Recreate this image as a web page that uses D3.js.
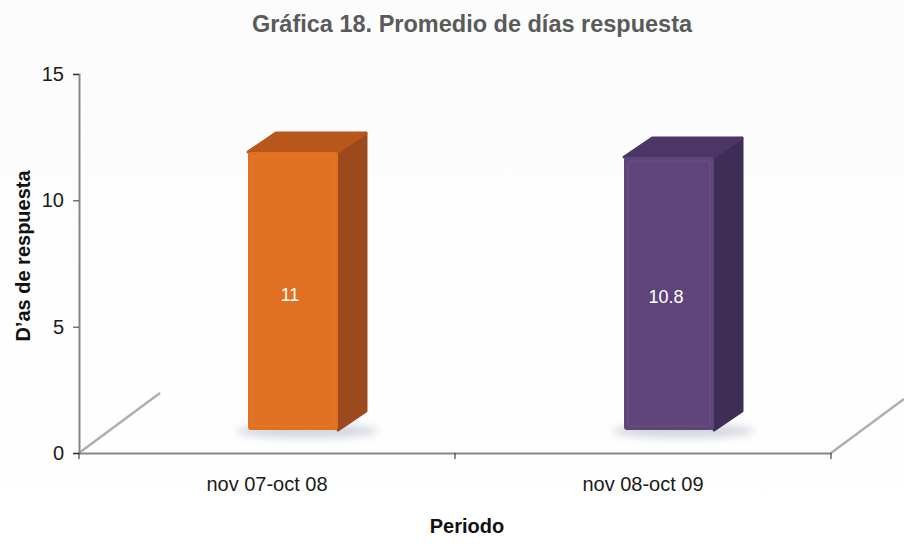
<!DOCTYPE html>
<html lang="es">
<head>
<meta charset="UTF-8">
<title>Gráfica 18</title>
<script src="https://d3js.org/d3.v7.min.js"></script>
<style>
  body, html { margin: 0; padding: 0; background: #fff; }
  text { font-family: "Liberation Sans", Arial, sans-serif; }
</style>
</head>
<body>
<div id="chart"></div>
<script>
// data
const periods = ["nov 07-oct 08", "nov 08-oct 09"];
const days = [11, 10.8];
const yTicks = [0, 5, 10, 15];
const frontColors = ["#e07022", "#5f4479"];
const sideColors = ["#9b4a1d", "#3e2e56"];
const topColors = ["#b8571c", "#4b3666"];

const width = 904, height = 544;
const svg = d3.select("#chart").append("svg")
    .attr("width", width).attr("height", height);

const defs = svg.append("defs");
const bg = defs.append("linearGradient").attr("id", "bg")
    .attr("x1", 0).attr("y1", 0).attr("x2", 0).attr("y2", 1);
bg.append("stop").attr("offset", "0%").attr("stop-color", "#fcfcfc");
bg.append("stop").attr("offset", "100%").attr("stop-color", "#ffffff");
const shadow = defs.append("filter").attr("id", "blur")
    .attr("x", "-30%").attr("y", "-100%").attr("width", "160%").attr("height", "300%");
shadow.append("feGaussianBlur").attr("stdDeviation", 4);

svg.append("rect").attr("width", width).attr("height", height).attr("fill", "url(#bg)");

const x = d3.scaleBand().domain(periods).range([79, 831]);
const y = d3.scaleLinear().domain([0, 15]).range([453, 74]);

// depth offsets for the pseudo 3d look
const shiftX = 26, shiftY = -23;
const depthX = 28, depthY = -19;
const barW = 90;

// back floor edges
svg.append("line")
    .attr("x1", 79).attr("y1", y(0)).attr("x2", 160).attr("y2", y(0) - 60)
    .attr("stroke", "#b5adad").attr("stroke-width", 2.5);
svg.append("line")
    .attr("x1", 831).attr("y1", y(0)).attr("x2", 904).attr("y2", y(0) - 54)
    .attr("stroke", "#b5adad").attr("stroke-width", 2.5);

// axes
const yAxis = svg.append("g").attr("transform", "translate(79,0)")
    .call(d3.axisLeft(y).tickValues(yTicks).tickSize(6).tickPadding(9));
yAxis.select(".domain").attr("stroke", "#8a8585").attr("stroke-width", 2);
yAxis.selectAll(".tick line").attr("stroke", "#333");
yAxis.selectAll(".tick text").attr("font-size", 20).attr("fill", "#1a1a1a")
    .style("font-family", "Liberation Sans, Arial, sans-serif");

const xAxis = svg.append("g").attr("transform", `translate(0,${y(0)})`)
    .call(d3.axisBottom(x).tickSize(0).tickPadding(24));
xAxis.select(".domain").attr("stroke", "#8a8585").attr("stroke-width", 2);
xAxis.selectAll(".tick line").remove();
xAxis.selectAll(".tick text").attr("font-size", 20).attr("fill", "#1a1a1a")
    .style("font-family", "Liberation Sans, Arial, sans-serif");
// category boundary ticks
svg.append("g").selectAll("line")
    .data([x.range()[0], x(periods[1]), x.range()[1]])
    .join("line")
    .attr("x1", d => d).attr("x2", d => d)
    .attr("y1", y(0)).attr("y2", y(0) + 6)
    .attr("stroke", "#222").attr("stroke-width", 1);

// bars
const bars = svg.append("g").selectAll("g").data(days).join("g");

bars.each(function (d, i) {
    const g = d3.select(this);
    const cx = x(periods[i]) + x.bandwidth() / 2 + shiftX;
    const x0 = cx - barW / 2, x1 = cx + barW / 2;
    const yb = y(0) + shiftY, yt = y(d) + shiftY;

    // floor shadow
    g.append("ellipse")
        .attr("cx", cx + 14).attr("cy", yb + 1)
        .attr("rx", barW / 2 + 26).attr("ry", 7)
        .attr("fill", "#aab3c2").attr("opacity", 0.55)
        .attr("filter", "url(#blur)");

    // side face
    g.append("path")
        .attr("d", `M${x1},${yt} L${x1 + depthX},${yt + depthY} L${x1 + depthX},${yb + depthY} L${x1},${yb} Z`)
        .attr("fill", sideColors[i]).attr("stroke", sideColors[i]).attr("stroke-linejoin", "round")
        .attr("stroke-width", 3);
    // top face
    g.append("path")
        .attr("d", `M${x0},${yt} L${x0 + depthX},${yt + depthY} L${x1 + depthX},${yt + depthY} L${x1},${yt} Z`)
        .attr("fill", topColors[i]).attr("stroke", topColors[i]).attr("stroke-linejoin", "round")
        .attr("stroke-width", 3);
    // front face
    g.append("rect")
        .attr("x", x0).attr("y", yt).attr("width", barW).attr("height", yb - yt)
        .attr("rx", 3).attr("fill", frontColors[i]);
    g.append("rect")
        .attr("x", x0 + 4).attr("y", yt + 4).attr("width", barW - 8).attr("height", yb - yt - 8)
        .attr("rx", 2).attr("fill", "none").attr("stroke", "#ffffff").attr("stroke-opacity", 0.08);

    g.append("text")
        .attr("x", cx - 3).attr("y", (yt + yb) / 2 + 5)
        .attr("text-anchor", "middle").attr("dominant-baseline", "middle")
        .attr("font-size", 18).attr("fill", "#fff")
        .text(d);
});

// titles
svg.append("text").attr("x", 472).attr("y", 32)
    .attr("text-anchor", "middle").attr("font-size", 23.5).attr("font-weight", "bold")
    .attr("fill", "#5a5a5a").text("Gráfica 18. Promedio de días respuesta");

svg.append("text")
    .attr("transform", "translate(30,256) rotate(-90)")
    .attr("text-anchor", "middle").attr("font-size", 20).attr("font-weight", "bold")
    .attr("fill", "#111").text("D’as de respuesta");

svg.append("text").attr("x", 467).attr("y", 533)
    .attr("text-anchor", "middle").attr("font-size", 20).attr("font-weight", "bold")
    .attr("fill", "#111").text("Periodo");
</script>
</body>
</html>
